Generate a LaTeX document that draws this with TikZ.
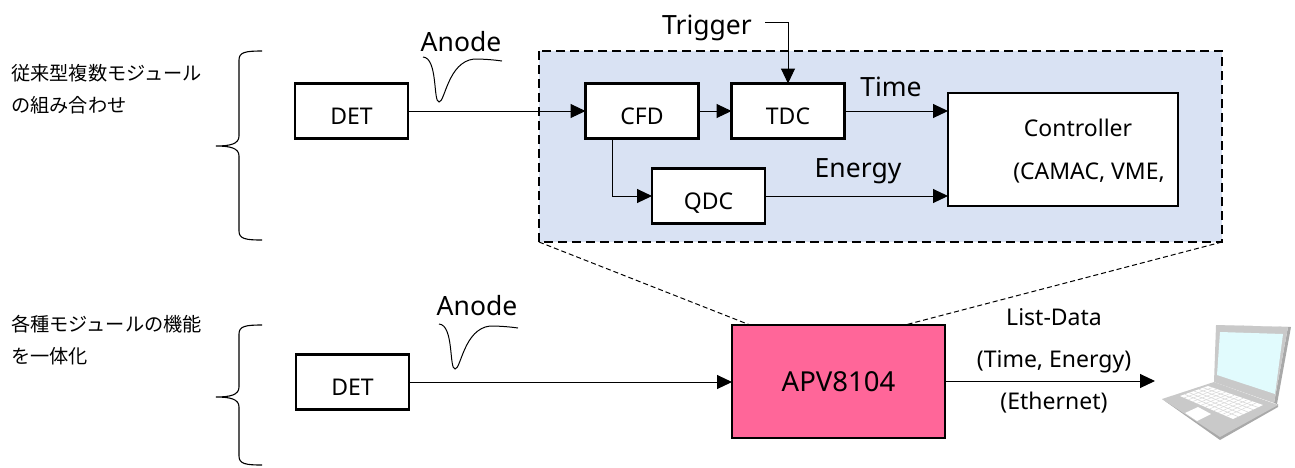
\documentclass[tikz,border=0pt]{standalone}
\usepackage{fontspec}
\setmainfont{Noto Sans}
\newfontfamily\jpfont{Noto Sans CJK JP}
\usetikzlibrary{arrows.meta,positioning,calc}
\definecolor{panelblue}{HTML}{D9E2F3}
\definecolor{apvpink}{HTML}{FF6699}
\definecolor{lapgray}{HTML}{C9C9C9}
\definecolor{lapdark}{HTML}{A9A9A9}
\definecolor{lapscreen}{HTML}{E1FBFD}
\tikzset{
	box/.style={draw,line width=2.4pt,fill=white,minimum width=113pt,minimum height=55pt,inner sep=0pt,outer sep=0pt,font=\fontsize{23}{26}\selectfont,text height=26pt,text depth=0pt},
	sig/.style={-{Triangle[length=15pt,width=14pt]},line width=1pt},
	txt/.style={font=\fontsize{26.5}{30}\selectfont,inner sep=0pt},
	smalltxt/.style={font=\fontsize{23}{26}\selectfont,inner sep=0pt},
	jptxt/.style={font=\jpfont\fontsize{19.2}{24}\selectfont,inner sep=0pt,anchor=west},
	link/.style={line width=1pt,dash pattern=on 5pt off 3pt},
	curly/.style={line width=1.1pt},
}
\begin{document}
\begin{tikzpicture}[x=1pt,y=-1pt]
	\useasboundingbox (0,0) rectangle (1295,467);
	% blue panel
	\draw[fill=panelblue,line width=2.6pt,dash pattern=on 9pt off 5pt] (539,51) rectangle (1222,242);
	% upper row
	\node[box] (det1) at (351.5,111) {DET};
	\node[box] (cfd) at (642,111) {CFD};
	\node[box] (tdc) [right=33pt of cfd] {TDC};
	\node[box] (qdc) at (708.5,196) {QDC};
	\node[box,minimum width=230pt,minimum height=113pt] (ctrl) at (1063,149.5) {};
	\coordinate (trig) at (765,22);
	\coordinate (trigc) at (tdc.north |- trig);
	\draw[sig] (det1.east) -- (cfd.west);
	\draw[sig] (cfd.east) -- (tdc.west);
	\draw[sig] (trig) -- (trigc) -- (tdc.north);
	\draw[sig] (tdc.east) -- (tdc.east -| ctrl.west);
	\draw[sig] (qdc.east) -- (qdc.east -| ctrl.west);
	\draw[sig] (cfd.south -| 612,0) -- (612,196) -- (qdc.west);
	% lower row
	\node[box] (det2) at (352.5,382) {DET};
	\node[box,fill=apvpink,minimum width=213pt,minimum height=113pt,text height=19pt,font=\fontsize{27.5}{30}\selectfont] (apv) at (838.5,381.5) {APV8104};
	\coordinate (pc) at (1155,381);
	\draw[sig] (det2.east) -- (det2.east -| apv.west);
	\draw[sig] (apv.east |- pc) -- (pc);
	\coordinate (pl) at (539,242);
	\coordinate (pr) at (1222,242);
	\draw[link] (pl) -- (apv.north -| 750,0);
	\draw[link] (pr) -- (apv.north -| 905,0);
	% labels
	\node[txt] (an1) at (461,42) {Anode};
	\node[txt] (an2) at (477,306) {Anode};
	\node[txt] (trg) at (707,28) {Trigger};
	\node[txt] (tm) at (891,87) {Time};
	\node[txt] (en) at (858,171) {Energy};
	\node[smalltxt] (c1) at (1078,128) {Controller};
	\node[smalltxt] (c2) at (1089,173) {(CAMAC, VME,};
	\node[smalltxt] (l1) at (1054,317) {List-Data};
	\node[smalltxt] (l2) at (1054,362) {(Time, Energy)};
	\node[smalltxt] (l3) at (1054,403) {(Ethernet)};
	\node[jptxt] (j1) at (11,73) {従来型複数モジュール};
	\node[jptxt] (j2) at (11,105) {の組み合わせ};
	\node[jptxt] (j3) at (11,324) {各種モジュールの機能};
	\node[jptxt] (j4) at (11,356) {を一体化};
	% pulses
	\draw[line width=1pt] (423,57) .. controls (438,58) and (433,102) .. (439,102) .. controls (445,102) and (448,62) .. (474,59) .. controls (485,59) and (495,60) .. (502,61);
	\draw[line width=1pt] (439,324) .. controls (454,325) and (449,369) .. (455,369) .. controls (461,369) and (464,329) .. (490,326) .. controls (501,326) and (511,327) .. (518,328);
	% braces
	\draw[curly] (262,51) .. controls (246,51) and (239,52) .. (239,60) -- (239,136) .. controls (239,144) and (230,146) .. (216,146) .. controls (230,146) and (239,148) .. (239,156) -- (239,231) .. controls (239,239) and (246,240) .. (262,240);
	\draw[curly] (262,325) .. controls (246,325) and (239,326) .. (239,334) -- (239,387) .. controls (239,395) and (230,397) .. (216,397) .. controls (230,397) and (239,399) .. (239,407) -- (239,456) .. controls (239,464) and (246,465) .. (262,465);
	% laptop
	\fill[lapdark] (1162,399) -- (1220,440) -- (1278,407) -- (1278,404) -- (1220,434) -- cycle;
	\fill[lapgray] (1162,399) -- (1214,382) -- (1278,405) -- (1220,437) -- cycle;
	\fill[lapdark] (1216,325) -- (1291,327) -- (1277,404) -- (1274,403) -- (1288,327) -- cycle;
	\fill[lapgray] (1216,325) -- (1288,327) -- (1274,403) -- (1214,382) -- cycle;
	\fill[lapscreen] (1220,332) -- (1283,334) -- (1275,394) -- (1217,375) -- cycle;
	\coordinate (ka) at (1180,396);
	\coordinate (kb) at (1208,386);
	\coordinate (kc) at (1263,405);
	\coordinate (kd) at (1233,419);
	\fill[white] (ka) -- (kb) -- (kc) -- (kd) -- cycle;
	\fill[white] (1185,413) -- (1198,407) -- (1211,414) -- (1197,421) -- cycle;
	\foreach \t in {0.17,0.33,0.5,0.67,0.83}
		\draw[lapgray!70,line width=0.6pt] ($(ka)!\t!(kb)$) -- ($(kd)!\t!(kc)$);
	\foreach \t in {0.08,0.16,...,0.95}
		\draw[lapgray!70,line width=0.5pt] ($(ka)!\t!(kd)$) -- ($(kb)!\t!(kc)$);
\end{tikzpicture}
\end{document}
